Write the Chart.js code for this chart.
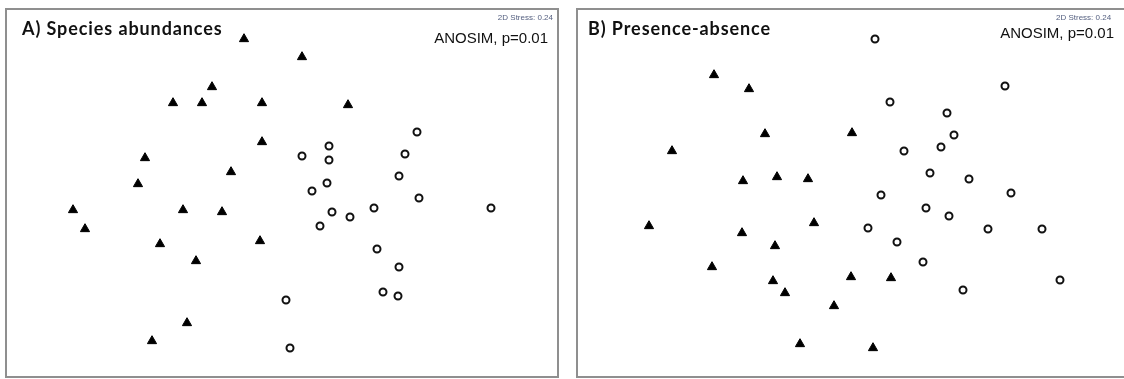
<!DOCTYPE html>
<html>
<head>
<meta charset="utf-8">
<script src="https://cdn.jsdelivr.net/npm/chart.js@4"></script>
<style>
    html, body { margin: 0; padding: 0; background: #fff; width: 1124px; height: 379px; overflow: hidden; position: relative; }
    .panel { position: absolute; top: 8px; width: 550px; height: 366px; border: 2px solid #8f8f8f; }
    .panel canvas { position: absolute; left: 0; top: 0; }
    .lbl { position: absolute; white-space: nowrap; line-height: 1; }
    .title { font-family: Lato, sans-serif; font-weight: bold; font-size: 18px; letter-spacing: 0.9px; color: #111; }
    .anosim { font-family: "Liberation Sans", Arial, sans-serif; font-size: 15px; color: #111; }
    .stress { font-family: "Liberation Sans", Arial, sans-serif; font-size: 8px; color: #556080; }
</style>
</head>
<body>
<div class="panel" style="left:5px;"><canvas id="nmdsAbund" width="550" height="366"></canvas></div>
<div class="panel" style="left:576px;"><canvas id="nmdsPres" width="550" height="366"></canvas></div>

<div class="lbl title" style="left:22px; top:19px;">A) Species abundances</div>
<div class="lbl anosim" style="right:576px; top:30px;">ANOSIM, p=0.01</div>
<div class="lbl stress" style="right:571px; top:14px;">2D Stress: 0.24</div>

<div class="lbl title" style="left:588px; top:19px;">B) Presence-absence</div>
<div class="lbl anosim" style="right:10px; top:25px;">ANOSIM, p=0.01</div>
<div class="lbl stress" style="left:1056px; top:14px;">2D Stress: 0.24</div>

<script>
//################### NMDS coordinates ###################
// A) species abundances
const abundTriX = [-0.38, 0.20, -0.70, -1.09, -0.80, -0.20, 0.66, -0.20, -1.37, -0.51,
                   -1.44, -2.09, -0.99, -0.60, -1.97, -1.22, -0.22, -0.86, -0.95, -1.30];
const abundTriY = [1.54, 1.36, 1.06, 0.90, 0.90, 0.90, 0.88, 0.51, 0.35, 0.21,
                   0.09, -0.17, -0.17, -0.19, -0.36, -0.51, -0.48, -0.68, -1.30, -1.48];
const abundCircX = [1.35, 0.47, 0.20, 0.47, 1.23, 1.17, 0.45, 0.30, 1.37, 0.92,
                    2.09, 0.50, 0.68, 0.38, 0.95, 1.17, 1.01, 1.16, 0.04, 0.08];
const abundCircY = [0.61, 0.47, 0.37, 0.33, 0.39, 0.17, 0.10, 0.02, -0.05, -0.15,
                    -0.15, -0.19, -0.24, -0.33, -0.56, -0.74, -0.99, -1.03, -1.07, -1.55];

// B) presence-absence
const presTriX = [-1.39, -1.04, -0.88, -0.01, -1.81, -1.10, -0.76, -0.45, -2.04, -0.39,
                  -1.11, -0.78, -1.41, -0.80, -0.02, 0.38, -0.68, -0.19, -0.53, 0.20];
const presTriY = [1.18, 1.04, 0.59, 0.60, 0.42, 0.12, 0.16, 0.14, -0.33, -0.30,
                  -0.40, -0.53, -0.74, -0.88, -0.84, -0.85, -1.00, -1.13, -1.51, -1.55];
const presCircX = [0.22, 1.52, 0.37, 0.94, 1.01, 0.88, 0.51, 0.77, 1.16, 1.58,
                   0.28, 0.73, 0.96, 0.15, 1.35, 1.89, 0.44, 0.70, 1.10, 2.07];
const presCircY = [1.54, 1.07, 0.91, 0.80, 0.58, 0.46, 0.42, 0.20, 0.14, 0.00,
                   -0.02, -0.15, -0.23, -0.35, -0.36, -0.36, -0.49, -0.69, -0.97, -0.87];

const axisX = [-2.75, 2.75];
const axisY = [-1.83, 1.83];

function toPoints(xs, ys) {
    return xs.map((x, i) => ({ x: x, y: ys[i] }));
}

//################### Plot one NMDS panel ###################
function createNmdsChart(canvasId, triX, triY, circX, circY) {
    const ctx = document.getElementById(canvasId).getContext('2d');
    new Chart(ctx, {
        type: 'scatter',
        data: {
            datasets: [{
                label: 'Group 1',
                data: toPoints(triX, triY),
                pointStyle: 'triangle',
                pointRadius: 5.3,
                backgroundColor: '#000',
                borderColor: '#000',
                borderWidth: 1,
            }, {
                label: 'Group 2',
                data: toPoints(circX, circY),
                pointStyle: 'circle',
                pointRadius: 3.5,
                backgroundColor: '#fff',
                borderColor: '#111',
                borderWidth: 2,
            }]
        },
        options: {
            responsive: false,
            animation: false,
            devicePixelRatio: 1,
            layout: { padding: 0, autoPadding: false },
            plugins: {
                legend: { display: false },
                tooltip: { enabled: false },
                title: { display: false }
            },
            scales: {
                x: { type: 'linear', min: axisX[0], max: axisX[1], display: false },
                y: { type: 'linear', min: axisY[0], max: axisY[1], display: false }
            }
        }
    });
}

createNmdsChart('nmdsAbund', abundTriX, abundTriY, abundCircX, abundCircY);
createNmdsChart('nmdsPres', presTriX, presTriY, presCircX, presCircY);
</script>
</body>
</html>
